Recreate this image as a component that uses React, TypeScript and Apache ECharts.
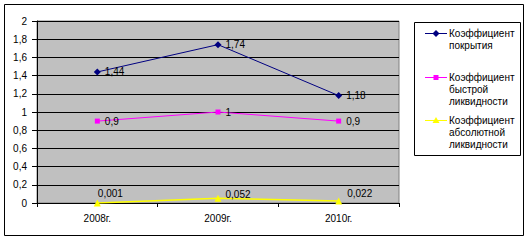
import React, { useEffect, useRef } from "react";
import * as echarts from "echarts";

const categories = ["2008г.", "2009г.", "2010г."];
const coverage = [1.44, 1.74, 1.18];
const quick = [0.9, 1, 0.9];
const absolute = [0.001, 0.052, 0.022];
const seriesNames = [
  "Коэффициент\nпокрытия",
  "Коэффициент\nбыстрой\nликвидности",
  "Коэффициент\nабсолютной\nликвидности",
];

const FONT = "'Liberation Sans', Arial, sans-serif";
const fmt = (v: number) => String(Number(v.toFixed(3))).replace(".", ",");

export default function App() {
  const ref = useRef<HTMLDivElement>(null);
  useEffect(() => {
    if (!ref.current) return;
    const chart = echarts.init(ref.current, undefined, { renderer: "svg" });
    const labelBase = {
      show: true,
      position: "right" as const,
      color: "#000",
      fontSize: 10,
      fontFamily: FONT,
      formatter: (p: any) => fmt(p.value),
    };
    const yellowOffsets = [
      [-8, -9],
      [-1, -4],
      [0, -7],
    ];
    const legendItems = [
      { y: 33, color: "#000080", sym: "diamond" },
      { y: 77, color: "#FF00FF", sym: "square" },
      { y: 120, color: "#FFFF00", sym: "triangle" },
    ];
    const legendGraphics: any[] = [
      {
        type: "rect",
        shape: { x: 414.5, y: 22.5, width: 106, height: 133 },
        style: { fill: "#fff", stroke: "#000", lineWidth: 1 },
      },
    ];
    legendItems.forEach((it, i) => {
      legendGraphics.push({
        type: "line",
        shape: { x1: 425, y1: it.y + 0.5, x2: 447, y2: it.y + 0.5 },
        style: { stroke: it.color, lineWidth: 1 },
      });
      const cx = 436;
      const cy = it.y + 0.5;
      if (it.sym === "diamond") {
        legendGraphics.push({
          type: "polygon",
          shape: { points: [[cx, cy - 3.5], [cx + 3.5, cy], [cx, cy + 3.5], [cx - 3.5, cy]] },
          style: { fill: it.color },
        });
      } else if (it.sym === "square") {
        legendGraphics.push({
          type: "rect",
          shape: { x: cx - 2.5, y: cy - 2.5, width: 5, height: 5 },
          style: { fill: it.color },
        });
      } else {
        legendGraphics.push({
          type: "polygon",
          shape: { points: [[cx, cy - 3.5], [cx + 3.5, cy + 2.5], [cx - 3.5, cy + 2.5]] },
          style: { fill: it.color },
        });
      }
      legendGraphics.push({
        type: "text",
        style: {
          text: seriesNames[i],
          x: 449,
          y: it.y - 6,
          fill: "#000",
          fontSize: 10,
          fontFamily: FONT,
          lineHeight: 12,
          verticalAlign: "top",
          align: "left",
        },
      });
    });

    chart.setOption({
      animation: false,
      backgroundColor: "#fff",
      textStyle: { fontFamily: FONT },
      grid: {
        left: 37,
        right: 129,
        top: 21,
        bottom: 37,
        show: true,
        backgroundColor: "#C0C0C0",
        borderColor: "#808080",
        borderWidth: 1,
      },
      xAxis: {
        type: "category",
        data: categories,
        boundaryGap: true,
        axisLine: { lineStyle: { color: "#000", width: 1 } },
        axisTick: { show: true, length: 4, lineStyle: { color: "#000" } },
        axisLabel: { color: "#000", fontSize: 10, fontFamily: FONT, margin: 10 },
        splitLine: { show: false },
      },
      yAxis: {
        type: "value",
        min: 0,
        max: 2,
        interval: 0.2,
        axisLine: { show: true, lineStyle: { color: "#000", width: 1 } },
        axisTick: { show: true, length: 5, lineStyle: { color: "#000" } },
        axisLabel: {
          color: "#000",
          fontSize: 10,
          fontFamily: FONT,
          margin: 10,
          formatter: (v: number) => String(Number(v.toFixed(1))).replace(".", ","),
        },
        splitLine: { show: true, lineStyle: { color: "#000", width: 1 } },
      },
      series: [
        {
          name: seriesNames[0],
          type: "line",
          data: coverage,
          symbol: "diamond",
          symbolSize: 7,
          itemStyle: { color: "#000080" },
          lineStyle: { color: "#000080", width: 1 },
          label: { ...labelBase, distance: 4 },
          z: 3,
        },
        {
          name: seriesNames[1],
          type: "line",
          data: quick,
          symbol: "rect",
          symbolSize: 5,
          itemStyle: { color: "#FF00FF" },
          lineStyle: { color: "#FF00FF", width: 1 },
          label: { ...labelBase, distance: 5 },
          z: 3,
        },
        {
          name: seriesNames[2],
          type: "line",
          data: absolute.map((v, i) => ({
            value: v,
            label: { offset: yellowOffsets[i] },
          })),
          symbol: "triangle",
          symbolSize: 7,
          itemStyle: { color: "#FFFF00" },
          lineStyle: { color: "#FFFF00", width: 1.5 },
          label: { ...labelBase, distance: 5 },
          z: 4,
        },
      ],
      graphic: [
        {
          type: "rect",
          shape: { x: 4.5, y: 4.5, width: 519, height: 231 },
          style: { fill: "none", stroke: "#000", lineWidth: 1 },
          z: 10,
        },
        ...legendGraphics,
      ],
    });
    return () => chart.dispose();
  }, []);
  return (
    <div
      ref={ref}
      style={{ position: "absolute", left: 0, top: 0, width: 528, height: 240 }}
    />
  );
}
